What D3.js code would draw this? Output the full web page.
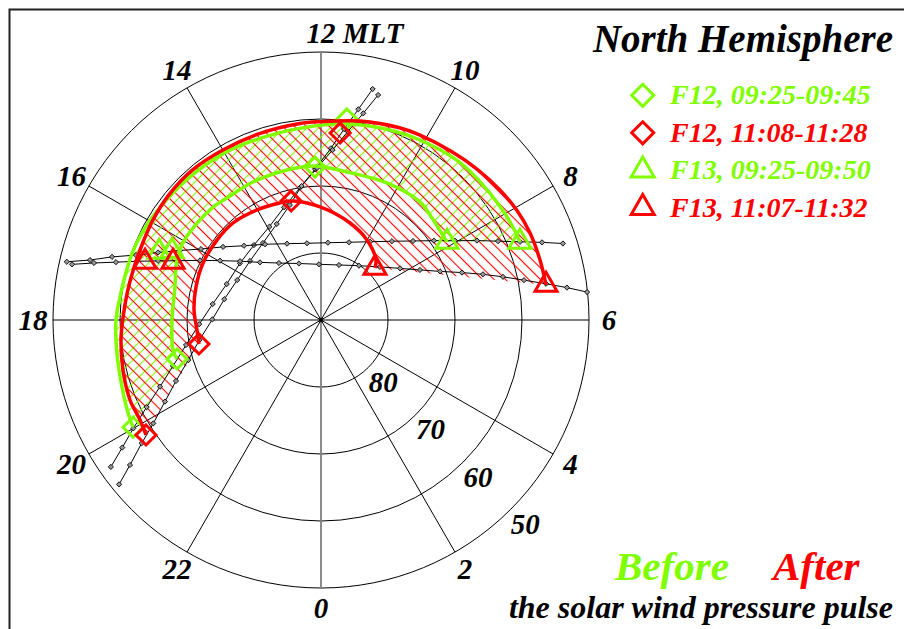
<!DOCTYPE html>
<html>
<head>
<meta charset="utf-8">
<script src="https://cdn.jsdelivr.net/npm/d3@7"></script>
<style>
  body { margin: 0; background: #fff; }
  text { font-family: "Liberation Serif", "Times New Roman", serif; font-weight: bold; font-style: italic; }
</style>
</head>
<body>
<div id="chart"></div>
<script>
// grid
const hourTicks = [0, 2, 4, 6, 8, 10, 12, 14, 16, 18, 20, 22];
const latCircles = [80, 70, 60, 50];

// satellite tracks, [MLT, MLAT]
const f12Before = [[20.33,51.73],[20.18,54.75],[20.00,57.66],[19.77,60.91],[19.50,63.99],[19.15,66.87],[18.70,69.51],[18.13,71.82],[17.44,73.66],[16.61,74.94],[15.67,75.24],[14.79,74.99],[13.93,74.08],[13.21,72.30],[12.60,70.00],[12.15,67.49],[11.78,64.33],[11.54,61.29],[11.33,58.06],[11.16,54.67]];
const f12After = [[20.61,51.14],[20.48,54.21],[20.30,57.52],[20.11,60.60],[19.84,63.72],[19.52,66.52],[19.12,69.31],[18.62,71.62],[17.98,73.78],[17.19,75.24],[16.30,76.15],[15.35,76.22],[14.47,75.61],[13.65,74.22],[13.01,72.22],[12.55,69.79],[12.10,67.31],[11.74,64.57],[11.46,61.58],[11.23,58.51],[11.05,55.35]];
const f13Before = [[17.14,51.07],[17.03,54.38],[16.88,57.42],[16.71,60.73],[16.50,63.67],[16.25,66.54],[15.96,69.19],[15.55,71.76],[15.07,74.03],[14.43,75.95],[13.60,77.53],[12.69,78.36],[11.66,78.42],[10.68,77.67],[9.86,76.21],[9.20,74.18],[8.71,71.90],[8.34,69.40],[8.04,66.76],[7.80,63.88],[7.60,61.07],[7.43,58.08],[7.29,55.03],[7.17,52.13]];
const f13After = [[17.16,51.92],[17.06,55.06],[16.95,58.20],[16.82,61.17],[16.67,64.13],[16.49,67.03],[16.25,69.88],[15.97,72.52],[15.60,75.07],[15.11,77.47],[14.43,79.43],[13.42,80.95],[12.14,81.68],[10.79,81.36],[9.67,80.11],[8.80,78.16],[8.21,75.91],[7.79,73.45],[7.48,70.81],[7.24,67.80],[7.05,64.88],[6.89,62.09],[6.74,59.13],[6.61,55.98],[6.50,52.97],[6.40,50.07]];

// observed boundaries
const f12BeforeBnd = [[19.98,57.71],[19.01,67.73],[12.15,67.15],[11.51,59.75]];
const f12AfterBnd = [[20.22,58.75],[18.74,71.44],[12.94,71.68],[11.61,61.94]];
const f13BeforeBnd = [[16.48,63.78],[16.34,65.49],[8.12,67.88],[7.43,58.10]];
const f13AfterBnd = [[16.78,62.34],[16.57,66.27],[8.93,78.81],[6.59,56.01]];

// fitted oval boundaries
const beforeOuter = [[19.98,57.71],[19.72,58.03],[19.24,58.66],[18.61,59.15],[18.00,59.40],[17.56,59.81],[17.23,60.0],[16.70,60.1],[16.24,60.3],[15.79,60.6],[14.93,61.0],[14.00,61.2],[13.07,61.4],[12.16,61.04],[11.50,60.45],[10.67,59.83],[10.08,59.34],[9.31,58.70],[8.79,58.55],[8.15,58.35],[7.66,58.15],[7.43,58.10]];
const beforeInner = [[19.01,67.73],[18.76,67.46],[18.00,67.76],[17.15,67.66],[16.56,66.8],[16.09,66.4],[15.53,66.5],[14.95,66.67],[14.42,67.04],[13.75,67.04],[12.85,67.04],[12.15,67.0],[11.34,67.57],[10.29,67.30],[9.33,67.01],[8.84,67.50],[8.12,67.88]];
const afterOuter = [[20.22,58.75],[19.93,59.14],[19.52,59.09],[18.94,59.52],[18.38,60.0],[18.0,60.4],[17.46,60.8],[17.0,61.0],[16.39,61.0],[15.93,60.8],[15.37,60.6],[14.74,60.5],[14.00,60.7],[13.22,60.7],[12.41,60.5],[12.02,60.4],[11.26,59.73],[10.52,59.0],[10.12,58.7],[9.49,58.2],[8.93,57.6],[8.40,57.0],[7.95,56.5],[7.51,56.21],[7.02,56.11],[6.59,56.01]];
const afterInner = [[18.74,71.44],[18.31,71.43],[17.70,70.99],[17.01,70.70],[16.28,70.45],[15.50,70.42],[14.81,70.45],[14.01,71.0],[13.29,71.49],[12.88,71.76],[12.03,73.13],[10.89,74.89],[10.01,76.22],[9.17,77.85],[8.93,78.81]];

const legendItems = [
  {shape: "diamond", color: "#7fff00", label: "F12, 09:25-09:45"},
  {shape: "diamond", color: "#ff0000", label: "F12, 11:08-11:28"},
  {shape: "triangle", color: "#7fff00", label: "F13, 09:25-09:50"},
  {shape: "triangle", color: "#ff0000", label: "F13, 11:07-11:32"}
];

const green = "#7fff00", red = "#ff0000";
const width = 904, height = 629;
const cx = 321, cy = 320;

const svg = d3.select("#chart").append("svg")
    .attr("width", width)
    .attr("height", height);

const rScale = d3.scaleLinear().domain([90, 50]).range([0, 268]);
const aScale = d3.scaleLinear().domain([0, 24]).range([Math.PI, -Math.PI]);

const proj = d => [cx + rScale(d[1]) * Math.sin(aScale(d[0])), cy - rScale(d[1]) * Math.cos(aScale(d[0]))];
const atRadius = (mlt, r) => [cx + r * Math.sin(aScale(mlt)), cy - r * Math.cos(aScale(mlt))];

// frame
svg.append("rect")
    .attr("x", 9.5).attr("y", 9.5)
    .attr("width", 1000).attr("height", 1000)
    .attr("fill", "none")
    .attr("stroke", "#222")
    .attr("stroke-width", 2);

// hatch patterns
const defs = svg.append("defs");
function hatch(id, color, angle) {
    const p = defs.append("pattern")
        .attr("id", id)
        .attr("patternUnits", "userSpaceOnUse")
        .attr("width", 8.2).attr("height", 8.2)
        .attr("patternTransform", `rotate(${angle})`);
    p.append("line")
        .attr("x1", 4.1).attr("y1", -1).attr("x2", 4.1).attr("y2", 9.2)
        .attr("stroke", color)
        .attr("stroke-width", 1.1);
}
hatch("hatch-green", green, 45);
hatch("hatch-red", red, -45);

// grid
const grid = svg.append("g");
grid.selectAll(".lat-circle")
    .data(latCircles)
    .join("circle")
    .attr("class", "lat-circle")
    .attr("cx", cx).attr("cy", cy)
    .attr("r", d => rScale(d))
    .attr("fill", "none")
    .attr("stroke", "#000")
    .attr("stroke-width", 1);

grid.selectAll(".meridian")
    .data(hourTicks)
    .join("line")
    .attr("class", "meridian")
    .attr("x1", cx).attr("y1", cy)
    .attr("x2", d => proj([d, 50])[0])
    .attr("y2", d => proj([d, 50])[1])
    .attr("stroke", d => d % 12 == 0 ? "#808080" : "#000")
    .attr("stroke-width", d => d % 12 == 0 ? 1.8 : 1);

grid.append("circle").attr("cx", cx).attr("cy", cy).attr("r", 2.2).attr("fill", "#000");

// hour labels
grid.selectAll(".hour-label")
    .data(hourTicks)
    .join("text")
    .attr("class", "hour-label")
    .attr("x", d => d == 12 ? atRadius(d, 287)[0] - 14.5 : atRadius(d, 288)[0])
    .attr("y", d => atRadius(d, d == 12 ? 287 : 288)[1])
    .attr("dy", "0.34em")
    .attr("text-anchor", d => d == 12 ? "start" : "middle")
    .style("font-size", "29px")
    .text(d => d == 12 ? "12 MLT" : d);

// latitude labels along 3 MLT
grid.selectAll(".lat-label")
    .data(latCircles)
    .join("text")
    .attr("class", "lat-label")
    .attr("x", d => atRadius(3, rScale(d) + 21)[0])
    .attr("y", d => atRadius(3, rScale(d) + 21)[1])
    .attr("dy", "0.34em")
    .attr("text-anchor", "middle")
    .style("font-size", "29px")
    .text(d => d);

// hatched regions between the fitted boundaries
const smooth = d3.line().curve(d3.curveCatmullRom.alpha(0.5));
function band(outer, inner) {
    const a = smooth(outer.map(proj));
    const b = smooth(inner.slice().reverse().map(proj));
    return a + "L" + b.slice(1) + "Z";
}
svg.append("path").attr("d", band(beforeOuter, beforeInner)).attr("fill", "url(#hatch-green)");
svg.append("path").attr("d", band(afterOuter, afterInner)).attr("fill", "url(#hatch-red)");

// tracks
const trackLine = d3.line();
const diamond = s => `M0,${-s}L${s},0L0,${s}L${-s},0Z`;
const triangle = (a, h) => `M0,${-2 * h / 3}L${a},${h / 3}L${-a},${h / 3}Z`;

[f12Before, f12After, f13Before, f13After].forEach(track => {
    const g = svg.append("g");
    g.append("path")
        .attr("d", trackLine(track.map(proj)))
        .attr("fill", "none")
        .attr("stroke", "#000")
        .attr("stroke-width", 1);
    g.selectAll("path.dot")
        .data(track)
        .join("path")
        .attr("class", "dot")
        .attr("d", diamond(2.6))
        .attr("transform", d => `translate(${proj(d)})`)
        .attr("fill", "#999")
        .attr("stroke", "#000")
        .attr("stroke-width", 0.9);
});

// boundaries + markers, before then after
function drawSet(outer, inner, dia, tri, color) {
    [outer, inner].forEach(arc => {
        svg.append("path")
            .attr("d", smooth(arc.map(proj)))
            .attr("fill", "none")
            .attr("stroke", color)
            .attr("stroke-width", 3.5);
    });
    svg.append("g").selectAll("path")
        .data(dia)
        .join("path")
        .attr("d", diamond(10))
        .attr("transform", d => `translate(${proj(d)})`)
        .attr("fill", "none")
        .attr("stroke", color)
        .attr("stroke-width", 3);
    svg.append("g").selectAll("path")
        .data(tri)
        .join("path")
        .attr("d", triangle(11, 19))
        .attr("transform", d => `translate(${proj(d)})`)
        .attr("fill", "none")
        .attr("stroke", color)
        .attr("stroke-width", 3);
}
drawSet(beforeOuter, beforeInner, f12BeforeBnd, f13BeforeBnd, green);
drawSet(afterOuter, afterInner, f12AfterBnd, f13AfterBnd, red);

// title and legend
svg.append("text")
    .attr("x", 893).attr("y", 52)
    .attr("text-anchor", "end")
    .style("font-size", "39px")
    .text("North Hemisphere");

const legend = svg.append("g").selectAll("g")
    .data(legendItems)
    .join("g")
    .attr("transform", (d, i) => `translate(0, ${104.3 + i * 37.5})`);

legend.append("path")
    .attr("d", d => d.shape == "diamond" ? diamond(11) : triangle(11.5, 20))
    .attr("transform", "translate(642.7, -9)")
    .attr("fill", "none")
    .attr("stroke", d => d.color)
    .attr("stroke-width", 3);

legend.append("text")
    .attr("x", 670)
    .attr("fill", d => d.color)
    .style("font-size", "28px")
    .text(d => d.label);

svg.append("text")
    .attr("x", 615).attr("y", 580)
    .attr("fill", green)
    .style("font-size", "41px")
    .text("Before");

svg.append("text")
    .attr("x", 773).attr("y", 580)
    .attr("fill", red)
    .style("font-size", "41px")
    .text("After");

svg.append("text")
    .attr("x", 893).attr("y", 618)
    .attr("text-anchor", "end")
    .style("font-size", "32px")
    .text("the solar wind pressure pulse");
</script>
</body>
</html>
